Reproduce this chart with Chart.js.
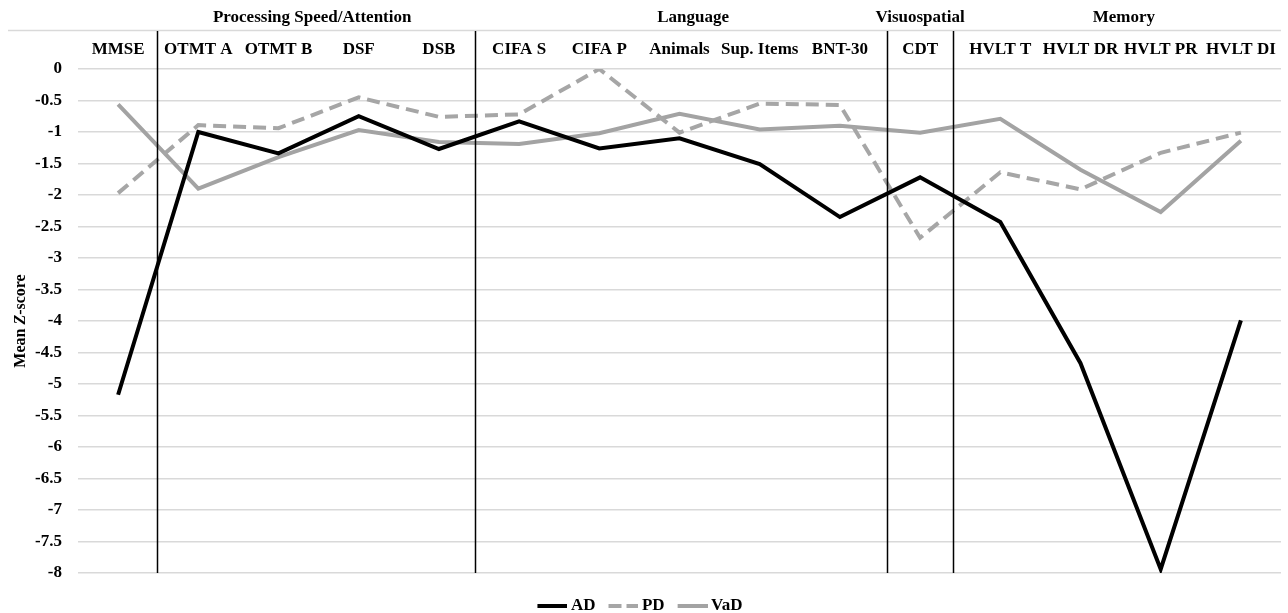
<!DOCTYPE html>
<html>
<head>
<meta charset="utf-8">
<script src="https://cdn.jsdelivr.net/npm/chart.js@4/dist/chart.umd.min.js"></script>
<style>
  html, body { margin: 0; padding: 0; background: #fff; }
  #wrap { width: 1288px; height: 613px; }
</style>
</head>
<body>
<div id="wrap"><canvas id="chart"></canvas></div>
<script>
const tests = ['MMSE', 'OTMT A', 'OTMT B', 'DSF', 'DSB', 'CIFA S', 'CIFA P', 'Animals',
  'Sup. Items', 'BNT-30', 'CDT', 'HVLT T', 'HVLT DR', 'HVLT PR', 'HVLT DI'];

const adScores  = [-5.17, -1.0, -1.34, -0.75, -1.27, -0.83, -1.26, -1.10, -1.51, -2.35, -1.72, -2.43, -4.67, -7.94, -3.99];
const pdScores  = [-1.97, -0.89, -0.94, -0.45, -0.76, -0.72, 0.0, -1.01, -0.55, -0.57, -2.68, -1.64, -1.91, -1.33, -1.01];
const vadScores = [-0.56, -1.90, -1.40, -0.97, -1.16, -1.19, -1.02, -0.71, -0.96, -0.90, -1.01, -0.79, -1.60, -2.27, -1.14];

// domain headings, centred on a (fractional) category index
const domainNames = ['Processing Speed/Attention', 'Language', 'Visuospatial', 'Memory'];
const domainCenters = [2.42, 7.17, 10.0, 12.54];
// separators between domains, as fractional category index
const dividers = [0.49, 4.45, 9.59, 10.41];

const FONT = '"Liberation Serif", "Times New Roman", serif';
Chart.defaults.font.family = FONT;
Chart.defaults.color = '#000';

// small legend samples (chart.js ignores borderDash for point-style legends)
function legendSample(color, dash) {
  const c = document.createElement('canvas');
  c.width = 34; c.height = 4;
  const g = c.getContext('2d');
  g.strokeStyle = color;
  g.lineWidth = 4;
  g.setLineDash(dash);
  g.beginPath();
  g.moveTo(4, 2);
  g.lineTo(34, 2);
  g.stroke();
  return c;
}

const domainPlugin = {
  id: 'domains',
  afterDraw(chart) {
    const { ctx, chartArea, scales } = chart;
    const x = scales.x;
    ctx.save();
    // top rule
    ctx.strokeStyle = '#d9d9d9';
    ctx.lineWidth = 1.5;
    ctx.beginPath();
    ctx.moveTo(8, 30.5);
    ctx.lineTo(chartArea.right, 30.5);
    ctx.stroke();

    ctx.strokeStyle = '#000';
    ctx.lineWidth = 1.5;
    dividers.forEach(d => {
      const px = Math.round(x.getPixelForValue(d)) + 0.5;
      ctx.beginPath();
      ctx.moveTo(px, 31);
      ctx.lineTo(px, chartArea.bottom);
      ctx.stroke();
    });

    ctx.fillStyle = '#000';
    ctx.font = 'bold 17px ' + FONT;
    ctx.textAlign = 'center';
    ctx.textBaseline = 'middle';
    domainNames.forEach((name, i) => {
      ctx.fillText(name, x.getPixelForValue(domainCenters[i]), 18);
    });

    // y axis title
    ctx.translate(21, (chartArea.top + chartArea.bottom) / 2);
    ctx.rotate(-Math.PI / 2);
    const parts = [['Mean ', 'bold '], ['Z', 'italic bold '], ['-score', 'bold ']];
    let total = 0;
    parts.forEach(p => { ctx.font = p[1] + '16px ' + FONT; total += ctx.measureText(p[0]).width; });
    let cx = -total / 2;
    ctx.textAlign = 'left';
    parts.forEach(p => {
      ctx.font = p[1] + '16px ' + FONT;
      ctx.fillText(p[0], cx, 0);
      cx += ctx.measureText(p[0]).width;
    });
    ctx.restore();
  }
};

new Chart(document.getElementById('chart'), {
  type: 'line',
  data: {
    labels: tests,
    datasets: [
      {
        label: 'AD',
        data: adScores,
        borderColor: '#000',
        backgroundColor: '#000',
        borderWidth: 4,
        pointRadius: 0,
        pointStyle: legendSample('#000', []),
        tension: 0
      },
      {
        label: 'PD',
        data: pdScores,
        borderColor: '#a6a6a6',
        backgroundColor: '#a6a6a6',
        borderWidth: 4,
        borderDash: [13, 7],
        pointRadius: 0,
        pointStyle: legendSample('#a6a6a6', [13, 5]),
        tension: 0
      },
      {
        label: 'VaD',
        data: vadScores,
        borderColor: '#a3a3a3',
        backgroundColor: '#a3a3a3',
        borderWidth: 4,
        pointRadius: 0,
        pointStyle: legendSample('#a3a3a3', []),
        tension: 0
      }
    ]
  },
  options: {
    responsive: true,
    maintainAspectRatio: false,
    animation: false,
    layout: { padding: { top: 0, right: 7, left: 0, bottom: -11 } },
    scales: {
      x: {
        position: 'top',
        offset: true,
        grid: { display: false },
        border: { display: false },
        ticks: {
          font: { size: 17, weight: 'bold' },
          padding: 1,
          maxRotation: 0,
          autoSkip: false
        },
        afterFit(scale) { scale.height = 69; }
      },
      y: {
        min: -8,
        max: 0,
        grid: { color: '#d9d9d9', lineWidth: 1.5, drawTicks: false },
        border: { display: false },
        ticks: {
          stepSize: 0.5,
          padding: 16,
          font: { size: 17, weight: 'bold' },
          callback: v => String(Math.round(v * 10) / 10)
        },
        afterFit(scale) { scale.width = 78; }
      }
    },
    plugins: {
      legend: {
        position: 'bottom',
        title: { display: true, text: ' ', padding: 0, font: { size: 10, lineHeight: 1 } },
        labels: {
          usePointStyle: true,
          pointStyleWidth: 24,
          padding: 14,
          font: { size: 17, weight: 'bold', lineHeight: 2.2 }
        }
      },
      tooltip: { enabled: false }
    }
  },
  plugins: [domainPlugin]
});
</script>
</body>
</html>
